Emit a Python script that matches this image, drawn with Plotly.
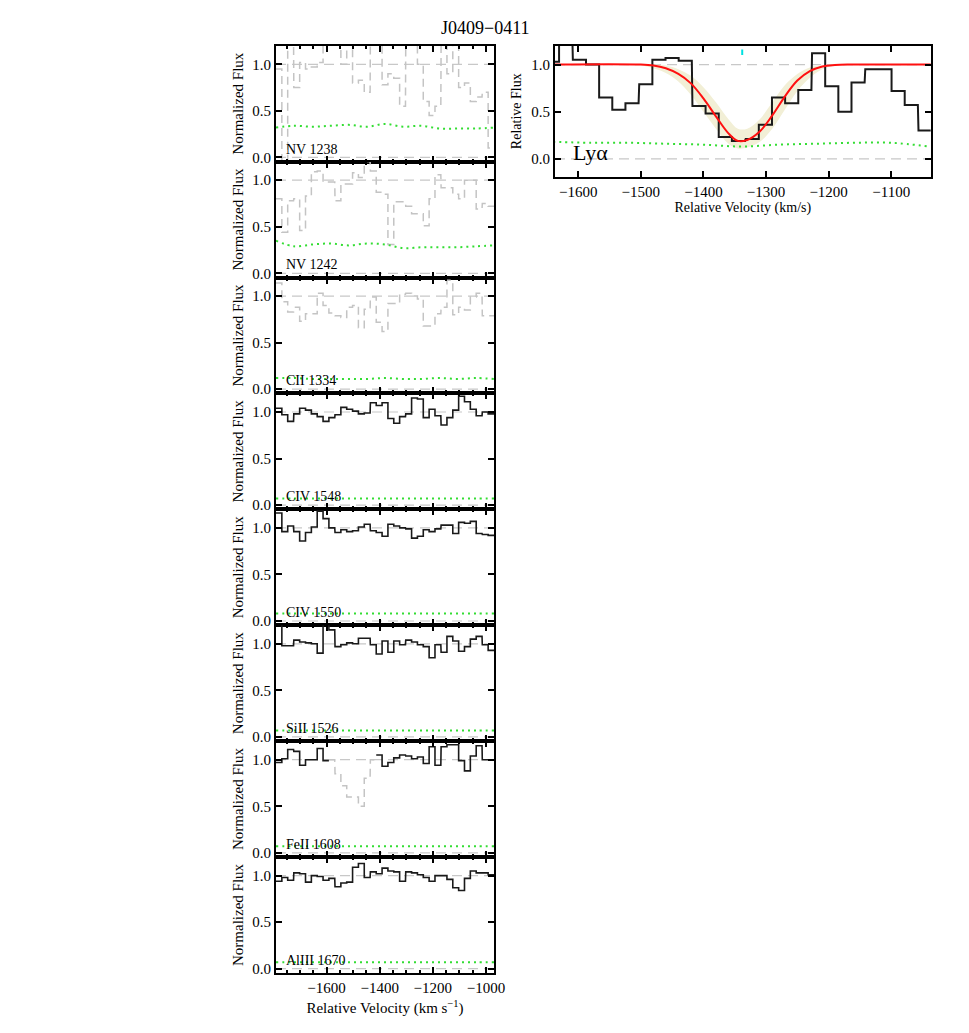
import plotly.graph_objects as go

W, H = 969, 1033
FONT = 'Liberation Serif'
OFF = 8  # page margin of the html body

# ---- left column: 8 transitions, same velocity bins (km/s, bin centres)
vel = [-1779, -1757, -1735, -1712, -1690, -1668, -1646, -1624, -1602, -1580,
       -1557, -1535, -1513, -1491, -1469, -1447, -1424, -1402, -1380, -1358,
       -1336, -1314, -1291, -1269, -1247, -1225, -1203, -1181, -1158, -1136,
       -1114, -1092, -1070, -1048, -1026, -1003, -981]

nv1238 = [0.95, -0.05, 1.30, 0.75, 1.02, 0.95, 0.97, 1.02, 1.25, 1.25,
          1.25, 1.00, 1.22, 0.80, 0.83, 0.70, 1.30, 1.22, 0.78, 0.90,
          0.85, 0.55, 1.22, 1.22, 1.00, 0.60, 0.45, 0.55, 1.22, 0.90,
          1.25, 0.75, 0.80, 0.60, 0.65, 0.70, 0.10]
nv1242 = [0.80, 0.44, 0.78, 0.80, 0.46, 0.83, 1.09, 1.10, 0.98, 0.98,
          0.78, 0.96, 0.96, 1.08, 1.03, 1.20, 1.10, 0.87, 0.85, 0.31,
          0.77, 0.77, 0.72, 0.64, 0.64, 0.51, 0.80, 1.06, 0.92, 0.92,
          0.85, 0.80, 1.00, 1.00, 0.69, 0.75, 0.72]
cii1334 = [1.14, 0.94, 0.83, 0.88, 0.73, 0.81, 0.81, 1.03, 0.90, 0.82,
           0.79, 0.77, 0.88, 0.90, 0.66, 0.86, 0.99, 0.72, 0.62, 0.92,
           0.92, 1.02, 1.03, 1.00, 0.97, 0.68, 0.68, 0.81, 0.88, 1.17,
           0.80, 0.88, 0.85, 0.99, 1.03, 0.79, 0.79]
civ1548 = [1.04, 0.97, 0.90, 0.98, 1.04, 1.02, 0.98, 0.95, 0.90, 0.94,
           0.97, 1.05, 1.03, 1.01, 0.98, 0.99, 1.10, 1.07, 1.10, 0.93,
           0.88, 0.95, 0.98, 1.15, 1.14, 0.94, 1.03, 0.96, 0.86, 0.94,
           1.02, 1.17, 1.11, 1.03, 0.96, 1.00, 0.98]
civ1550 = [1.16, 0.96, 1.02, 0.96, 0.86, 0.95, 1.01, 1.18, 1.10, 1.00,
           0.95, 0.98, 0.96, 0.97, 1.01, 1.04, 0.97, 0.95, 0.91, 1.04,
           1.02, 1.00, 0.99, 0.89, 0.91, 0.98, 0.96, 0.99, 1.03, 1.03,
           0.94, 1.06, 1.05, 1.07, 0.94, 0.93, 0.92]
sii1526 = [1.22, 0.98, 0.98, 1.04, 1.02, 1.01, 1.00, 0.90, 1.23, 1.15,
           0.97, 0.99, 1.01, 1.00, 1.06, 1.06, 0.99, 0.89, 1.03, 0.91,
           1.03, 0.99, 1.04, 1.02, 0.99, 0.97, 0.85, 0.99, 0.91, 1.08,
           1.03, 0.92, 0.97, 1.05, 1.08, 0.99, 0.93]
feii1608 = [0.97, 1.01, 1.11, 1.09, 0.94, 1.00, 1.00, 1.12, 0.99, 1.00,
            0.85, 0.72, 0.60, 0.60, 0.50, 0.80, 1.00, 1.05, 0.93, 0.97,
            1.02, 1.05, 1.04, 1.01, 1.03, 0.96, 1.14, 0.94, 1.14, 1.16,
            1.16, 0.99, 0.88, 1.04, 1.15, 1.00, 1.00]
aliii1670 = [0.94, 0.98, 0.95, 1.03, 1.02, 0.93, 1.00, 0.99, 0.95, 0.97,
             0.88, 0.92, 0.93, 1.09, 1.13, 0.98, 1.04, 1.02, 1.08, 1.05,
             1.04, 0.94, 1.04, 1.03, 1.01, 0.98, 0.94, 1.00, 1.00, 0.96,
             0.87, 0.84, 0.97, 1.05, 1.03, 1.03, 1.01]

# error spectra (green dotted), coarser sampling
err_vel = [-1790, -1722, -1653, -1585, -1517, -1448, -1380, -1312, -1243,
           -1175, -1107, -1038, -970]
err_nv1238 = [0.32, 0.34, 0.33, 0.34, 0.35, 0.33, 0.36, 0.33, 0.34, 0.31, 0.31, 0.31, 0.32]
err_nv1242 = [0.35, 0.29, 0.31, 0.32, 0.30, 0.32, 0.31, 0.27, 0.28, 0.28, 0.28, 0.29, 0.30]
err_cii1334 = [0.12, 0.12, 0.11, 0.11, 0.11, 0.11, 0.12, 0.11, 0.11, 0.12, 0.11, 0.12, 0.11]
err_civ1548 = [0.07, 0.07, 0.07, 0.07, 0.07, 0.07, 0.07, 0.07, 0.07, 0.07, 0.07, 0.07, 0.07]
err_civ1550 = [0.08, 0.08, 0.08, 0.08, 0.08, 0.08, 0.08, 0.08, 0.08, 0.08, 0.08, 0.08, 0.08]
err_sii1526 = [0.07, 0.07, 0.07, 0.07, 0.07, 0.07, 0.07, 0.07, 0.07, 0.07, 0.07, 0.07, 0.07]
err_feii1608 = [0.07, 0.07, 0.07, 0.07, 0.07, 0.07, 0.07, 0.07, 0.07, 0.07, 0.07, 0.07, 0.07]
err_aliii1670 = [0.07, 0.07, 0.07, 0.07, 0.07, 0.07, 0.07, 0.07, 0.07, 0.07, 0.07, 0.07, 0.07]

ions = ['NV 1238', 'NV 1242', 'CII 1334', 'CIV 1548', 'CIV 1550',
        'SiII 1526', 'FeII 1608', 'AlIII 1670']
fluxes = [nv1238, nv1242, cii1334, civ1548, civ1550, sii1526, feii1608, aliii1670]
errors = [err_nv1238, err_nv1242, err_cii1334, err_civ1548, err_civ1550,
          err_sii1526, err_feii1608, err_aliii1670]
# transitions shown entirely as blended (grey dashed)
blended = [True, True, True, False, False, False, False, False]
# blended stretch inside FeII 1608
feii_blend = (-1591, -1413)

# ---- Lyman alpha panel
lya_vel = [-1641, -1620, -1598, -1577, -1556, -1535, -1514, -1492, -1471, -1450,
           -1429, -1407, -1386, -1365, -1344, -1322, -1301, -1280, -1259, -1238,
           -1216, -1195, -1174, -1153, -1131, -1110, -1089, -1068, -1046]
lya_flux = [1.03, 1.35, 1.05, 1.00, 0.65, 0.52, 0.59, 0.79, 1.05, 1.07,
            1.04, 0.56, 0.48, 0.23, 0.19, 0.21, 0.36, 0.65, 0.59, 0.73,
            1.12, 0.77, 0.50, 0.81, 0.95, 0.95, 0.72, 0.57, 0.30]
lya_err_vel = [-1640, -1580, -1520, -1460, -1400, -1340, -1280, -1220, -1160, -1100, -1040]
lya_err = [0.18, 0.17, 0.17, 0.16, 0.15, 0.13, 0.15, 0.16, 0.17, 0.17, 0.13]

fit_vel = [-1650, -1500, -1480, -1460, -1440, -1420, -1400, -1380, -1360, -1345,
           -1330, -1310, -1290, -1270, -1250, -1230, -1210, -1190, -1170, -1030]
fit_flux = [1.0, 1.0, 0.99, 0.96, 0.90, 0.80, 0.64, 0.45, 0.27, 0.19,
            0.20, 0.29, 0.46, 0.66, 0.83, 0.93, 0.98, 0.995, 1.0, 1.0]
fit_hi = [1.0, 1.0, 1.0, 0.99, 0.95, 0.88, 0.76, 0.60, 0.42, 0.32,
          0.32, 0.42, 0.60, 0.78, 0.90, 0.97, 0.99, 1.0, 1.0, 1.0]
fit_lo = [1.0, 0.99, 0.96, 0.91, 0.82, 0.68, 0.50, 0.32, 0.16, 0.11,
          0.12, 0.18, 0.32, 0.52, 0.72, 0.86, 0.95, 0.99, 1.0, 1.0]
v_component = -1338


def steps(x, y, keep=None):
    half = (x[1] - x[0]) / 2
    xs, ys = [], []
    for i, (xi, yi) in enumerate(zip(x, y)):
        if keep is not None and not keep[i]:
            if xs and xs[-1] is not None:
                xs.append(None)
                ys.append(None)
            continue
        xs += [xi - half, xi + half]
        ys += [yi, yi]
    return xs, ys


def fx(p):  # screen pixel from left -> paper x
    return (p - OFF) / W


def fy(p):  # screen pixel from top -> paper y
    return 1 - (p - OFF) / H


GREY = dict(color='#c4c4c4', width=1.5, dash='8px,5px')
GREEN = dict(color='#33dd33', width=2, dash='2px,4px', shape='spline')

fig = go.Figure()
axis_common = dict(showline=True, linewidth=2, linecolor='black', mirror='ticks',
                   ticks='inside', ticklen=6, tickwidth=1.5, tickcolor='black',
                   showgrid=False, zeroline=False, automargin=False,
                   tickfont=dict(family=FONT, size=15, color='black'))

top, row_h = 45.7, 115.9
x_range = [-1790, -970]
y_range = [-0.045, 1.2]

for r, ion in enumerate(ions):
    n = r + 1
    xa, ya = f'x{n}', f'y{n}'
    f = fluxes[r]
    if blended[r]:
        gx, gy = steps(vel, f)
        fig.add_trace(go.Scatter(x=gx, y=gy, mode='lines', xaxis=xa, yaxis=ya, line=GREY))
    else:
        keep = [True] * len(vel)
        if ion == 'FeII 1608':
            keep = [not (feii_blend[0] < v < feii_blend[1]) for v in vel]
            bx, by = steps(vel, f, [not k for k in keep])
            fig.add_trace(go.Scatter(x=bx, y=by, mode='lines', xaxis=xa, yaxis=ya, line=GREY))
        sx, sy = steps(vel, f, keep)
        fig.add_trace(go.Scatter(x=sx, y=sy, mode='lines', xaxis=xa, yaxis=ya,
                                 line=dict(color='#1a1a1a', width=1.6)))
    fig.add_trace(go.Scatter(x=err_vel, y=errors[r], mode='lines', xaxis=xa, yaxis=ya, line=GREEN))

    y1 = top + r * row_h
    y0 = y1 + row_h
    last = r == len(ions) - 1
    xax = dict(
        axis_common, domain=[fx(276), fx(494)], anchor=ya, range=x_range,
        tickvals=[-1600, -1400, -1200, -1000],
        ticktext=['\u22121600', '\u22121400', '\u22121200', '\u22121000'],
        showticklabels=last,
        minor=dict(dtick=50, ticklen=3, tickcolor='black', ticks='inside'))
    if last:
        xax['title'] = dict(text='Relative Velocity (km s<sup>\u22121</sup>)',
                            font=dict(family=FONT, size=15), standoff=8)
    fig.layout[f'xaxis{n}'] = xax
    fig.layout[f'yaxis{n}'] = dict(
        axis_common, domain=[fy(y0), fy(y1)], anchor=xa, range=y_range,
        tickvals=[0, 0.5, 1.0], ticktext=['0.0', '0.5', '1.0'],
        title=dict(text='Normalized Flux', font=dict(family=FONT, size=15), standoff=5))
    for yv in (0, 1):
        fig.add_shape(type='line', xref=xa, yref=ya, x0=x_range[0], x1=x_range[1], y0=yv, y1=yv,
                      line=dict(color='#c8c8c8', width=1.2, dash='10px,6px'), layer='below')
    fig.add_annotation(x=-1760, y=0.09, xref=xa, yref=ya, text=ion, showarrow=False,
                       xanchor='left', yanchor='middle', font=dict(family=FONT, size=14, color='black'))

# Lyman alpha panel
xa, ya = 'x9', 'y9'
lx_range = [-1637, -1037]
fig.add_trace(go.Scatter(x=fit_vel, y=fit_lo, mode='lines', xaxis=xa, yaxis=ya,
                         line=dict(width=0, shape='spline')))
fig.add_trace(go.Scatter(x=fit_vel, y=fit_hi, mode='lines', xaxis=xa, yaxis=ya, fill='tonexty',
                         fillcolor='#f2efd6', line=dict(width=0, shape='spline')))
sx, sy = steps(lya_vel, lya_flux)
fig.add_trace(go.Scatter(x=sx, y=sy, mode='lines', xaxis=xa, yaxis=ya,
                         line=dict(color='#1a1a1a', width=2)))
fig.add_trace(go.Scatter(x=lya_err_vel, y=lya_err, mode='lines', xaxis=xa, yaxis=ya, line=GREEN))
fig.add_trace(go.Scatter(x=fit_vel, y=fit_flux, mode='lines', xaxis=xa, yaxis=ya,
                         line=dict(color='#ff1010', width=2, shape='spline')))
for yv in (0, 1):
    fig.add_shape(type='line', xref=xa, yref=ya, x0=lx_range[0], x1=lx_range[1], y0=yv, y1=yv,
                  line=dict(color='#c8c8c8', width=1.2, dash='10px,6px'), layer='below')
fig.add_shape(type='line', xref=xa, yref=ya, x0=v_component, x1=v_component, y0=1.10, y1=1.16,
              line=dict(color='#00e0e0', width=2))
fig.add_annotation(x=-1612, y=0.065, xref=xa, yref=ya, text='Ly\u03b1', showarrow=False,
                   xanchor='left', yanchor='middle', font=dict(family=FONT, size=22, color='black'))
fig.layout['xaxis9'] = dict(
    axis_common, domain=[fx(555), fx(930.7)], anchor=ya, range=lx_range,
    tickvals=[-1600, -1500, -1400, -1300, -1200, -1100],
    ticktext=['\u22121600', '\u22121500', '\u22121400', '\u22121300', '\u22121200', '\u22121100'],
    title=dict(text='Relative Velocity (km/s)', font=dict(family=FONT, size=14), standoff=3))
fig.layout['yaxis9'] = dict(
    axis_common, domain=[fy(176.7), fy(45.7)], anchor=xa, range=[-0.19, 1.2],
    tickvals=[0, 0.5, 1.0], ticktext=['0.0', '0.5', '1.0'],
    title=dict(text='Relative Flux', font=dict(family=FONT, size=14), standoff=6))

fig.add_annotation(x=fx(485), y=fy(28), xref='paper', yref='paper', text='J0409\u22120411',
                   showarrow=False, xanchor='center', yanchor='middle',
                   font=dict(family=FONT, size=18, color='black'))

fig.update_layout(width=W, height=H, showlegend=False, plot_bgcolor='white',
                  paper_bgcolor='white', margin=dict(l=0, r=0, t=0, b=0, autoexpand=False),
                  font=dict(family=FONT, color='black'))
fig.write_html('out.html')
